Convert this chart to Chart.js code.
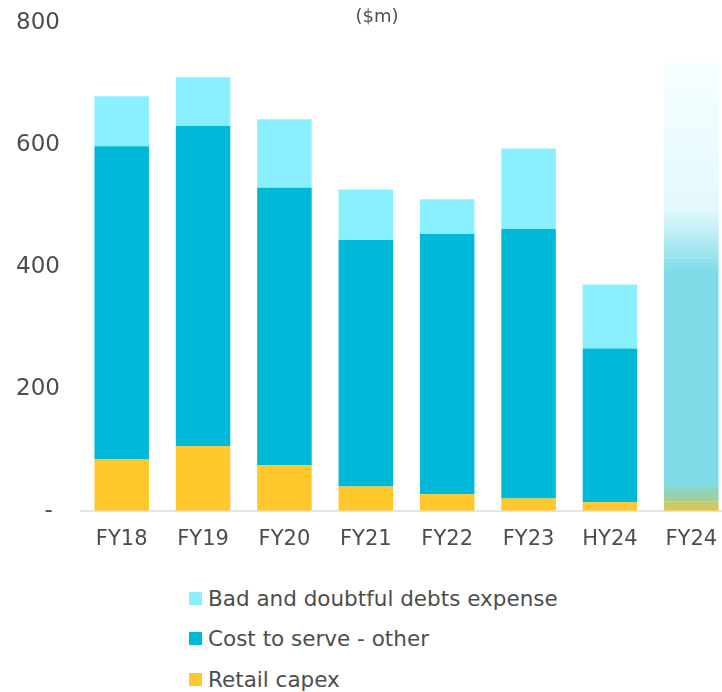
<!DOCTYPE html>
<html>
<head>
<meta charset="utf-8">
<script src="https://cdn.jsdelivr.net/npm/chart.js@4.4.1/dist/chart.umd.min.js"></script>
<style>
  html, body { margin: 0; padding: 0; background: #fff; overflow: hidden; width: 722px; height: 692px; }
  #wrap { position: relative; width: 722px; height: 692px; overflow: hidden; }
  #c { position: absolute; left: 0; top: 0; }
  #title { position: absolute; left: 327px; width: 100px; top: 5px; text-align: center;
           font-family: 'DejaVu Sans', sans-serif; font-size: 18px; color: #505050; }
  #legend { position: absolute; left: 189px; top: 578px; font-family: 'DejaVu Sans', sans-serif; font-size: 21.5px; color: #4d4d4d; }
  .li { height: 40.5px; display: flex; align-items: center; }
  .sw { width: 13px; height: 13px; margin-right: 6px; flex: none; }
</style>
</head>
<body>
<div id="wrap">
  <canvas id="c" width="740" height="568" style="width:740px;height:568px"></canvas>
  <div id="title">($m)</div>
  <div id="legend"></div>
</div>
<script>
const categories = ['FY18', 'FY19', 'FY20', 'FY21', 'FY22', 'FY23', 'HY24', 'FY24'];
const retailCapex = [85, 106, 75, 40, 27, 20, 14, 15];
const costToServe = [513, 525, 455, 404, 427, 442, 252, 400];
const badDebts = [82, 80, 112, 83, 57, 132, 105, 325];
const yTicks = [0, 200, 400, 600, 800];
const seriesNames = ['Bad and doubtful debts expense', 'Cost to serve - other', 'Retail capex'];
const seriesColors = ['#8aeffe', '#00b9d8', '#ffc72c'];
const placeholderIndex = 7;

function placeholderFill(chart) {
  const y = chart.scales.y;
  if (!chart.chartArea || !y) return null;
  const ctx = chart.ctx;
  const top = y.getPixelForValue(750), bot = y.getPixelForValue(0);
  const g = ctx.createLinearGradient(0, top, 0, bot);
  const at = (px) => Math.min(1, Math.max(0, (px - top) / (bot - top)));
  g.addColorStop(0, 'rgba(255,255,255,1)');
  g.addColorStop(at(y.getPixelForValue(715)), '#f4feff');
  g.addColorStop(at(y.getPixelForValue(500)), '#e4f9fd');
  g.addColorStop(at(y.getPixelForValue(465)), '#c8f1f8');
  g.addColorStop(at(y.getPixelForValue(392)), '#80dbe9');
  g.addColorStop(at(y.getPixelForValue(48)), '#80dbe8');
  g.addColorStop(at(y.getPixelForValue(22)), '#9bd0a3');
  g.addColorStop(at(y.getPixelForValue(2)), '#e6c440');
  g.addColorStop(1, '#e8c43c');
  return g;
}
function colorFor(idx) {
  return (context) => {
    if (context.dataIndex === placeholderIndex) {
      const g = placeholderFill(context.chart);
      return g || seriesColors[idx];
    }
    return seriesColors[idx];
  };
}

const datasets = [
  { label: seriesNames[2], data: retailCapex, backgroundColor: colorFor(2) },
  { label: seriesNames[1], data: costToServe, backgroundColor: colorFor(1) },
  { label: seriesNames[0], data: badDebts, backgroundColor: colorFor(0) }
];

const chart = new Chart(document.getElementById('c'), {
  type: 'bar',
  data: { labels: categories, datasets: datasets.map(d => Object.assign({ borderWidth: 0, barPercentage: 0.67, categoryPercentage: 1 }, d)) },
  options: {
    responsive: false,
    devicePixelRatio: 1,
    animation: false,
    layout: { padding: { top: 23, right: 8, left: 0, bottom: 0 } },
    plugins: { legend: { display: false }, tooltip: { enabled: false }, title: { display: false } },
    scales: {
      x: {
        stacked: true,
        grid: { display: false, drawTicks: false },
        border: { display: true, color: '#e4e4e4', width: 2 },
        ticks: { font: { family: 'DejaVu Sans, sans-serif', size: 21 }, color: '#4d4d4d', padding: 16 }
      },
      y: {
        stacked: true,
        min: 0, max: 800,
        afterBuildTicks: (s) => { s.ticks = yTicks.map(v => ({ value: v })); },
        afterFit: (s) => { s.width = 81; s.paddingTop = 0; s.paddingBottom = 0; },
        grid: { display: false, drawTicks: false },
        border: { display: false },
        ticks: { font: { family: 'DejaVu Sans, sans-serif', size: 23 }, color: '#4d4d4d', padding: 21,
                 callback: (v) => v === 0 ? '-\u00a0' : String(v) }
      }
    }
  }
});

const leg = document.getElementById('legend');
seriesNames.forEach((n, i) => {
  const row = document.createElement('div');
  row.className = 'li';
  const sw = document.createElement('span');
  sw.className = 'sw';
  sw.style.background = seriesColors[i];
  const t = document.createElement('span');
  t.textContent = n;
  row.appendChild(sw); row.appendChild(t);
  leg.appendChild(row);
});
</script>
</body>
</html>
